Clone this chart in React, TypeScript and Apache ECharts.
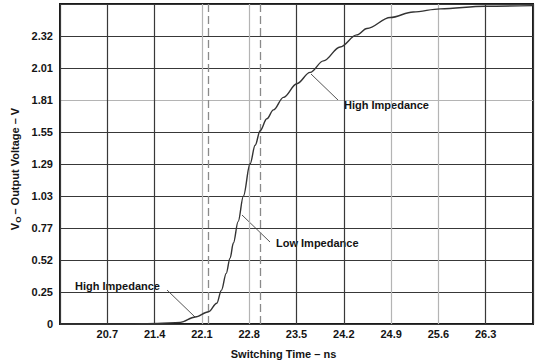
import React, { useEffect, useRef } from "react";
import * as echarts from "echarts";

// Curve: switching time in ns, output voltage in V
const timeNs = [20.0, 20.5, 21.0, 21.44, 21.78, 22.0, 22.2, 22.32, 22.39, 22.46, 22.517, 22.566, 22.636, 22.714, 22.813, 22.888, 22.962, 23.061, 23.159, 23.307, 23.505, 23.702, 23.899, 24.146, 24.393, 24.542, 24.887, 25.227, 25.627, 26.293, 27.0];
const voltage = [0, 0, 0.001, 0.005, 0.013, 0.056, 0.099, 0.167, 0.273, 0.408, 0.531, 0.652, 0.825, 1.03, 1.291, 1.44, 1.557, 1.653, 1.725, 1.826, 1.936, 2.027, 2.12, 2.232, 2.329, 2.381, 2.469, 2.514, 2.539, 2.56, 2.565];

// Dashed reference times (ns)
const dashedTimes = [22.2, 22.96];

// Axis settings
const xStartNs = 20.0;
const xStep = 0.7;
const xSpan = 7.0;
const yStep = 0.2578;
const yDivisions = 10;
const yTickLabels = ["0", "0.25", "0.52", "0.77", "1.03", "1.29", "1.55", "1.81", "2.01", "2.32", ""];

const DARK = "#383838";
const LIGHT = "#b4b4b4";
const TEXT = "#141414";
const FONT = "'Liberation Sans', Arial, Helvetica, sans-serif";

export default function App() {
  const ref = useRef<HTMLDivElement>(null);

  useEffect(() => {
    if (!ref.current) return;
    const chart = echarts.init(ref.current, undefined, { renderer: "svg" });
    const data = timeNs.map((t, i) => [t - xStartNs, voltage[i]]);
    const labelStyle = { fontFamily: FONT, fontWeight: "bold" as const, fontSize: 11, fill: TEXT };

    chart.setOption({
      animation: false,
      backgroundColor: "#ffffff",
      grid: {
        left: 60,
        right: 3,
        top: 4,
        bottom: 38,
        show: true,
        borderColor: "#1a1a1a",
        borderWidth: 2,
        backgroundColor: "transparent",
      },
      xAxis: {
        type: "value",
        min: 0,
        max: xSpan,
        interval: xStep,
        axisLine: { show: false },
        axisTick: { show: false },
        axisLabel: {
          showMinLabel: false,
          showMaxLabel: false,
          margin: 4,
          color: TEXT,
          fontFamily: FONT,
          fontWeight: "bold",
          fontSize: 11,
          formatter: (v: number) => (xStartNs + v).toFixed(1),
        },
        splitLine: {
          show: true,
          lineStyle: {
            width: 1.2,
            color: [DARK, DARK, DARK, LIGHT, LIGHT, DARK, DARK, LIGHT, LIGHT, DARK, DARK],
          },
        },
      },
      yAxis: {
        type: "value",
        min: 0,
        max: yStep * yDivisions,
        interval: yStep,
        axisLine: { show: false },
        axisTick: { show: false },
        axisLabel: {
          margin: 7,
          color: TEXT,
          fontFamily: FONT,
          fontWeight: "bold",
          fontSize: 11,
          formatter: (v: number) => yTickLabels[Math.round(v / yStep)] ?? "",
        },
        splitLine: {
          show: true,
          lineStyle: {
            width: 1.2,
            color: [DARK, DARK, DARK, DARK, DARK, DARK, DARK, LIGHT, DARK, DARK, DARK],
          },
        },
      },
      series: [
        {
          type: "line",
          data,
          showSymbol: false,
          smooth: 0.35,
          smoothMonotone: "x",
          lineStyle: { color: "#333333", width: 1.4 },
          z: 5,
          markLine: {
            silent: true,
            symbol: ["none", "none"],
            label: { show: false },
            lineStyle: { color: "#8a8a8a", width: 1.3, type: [8, 4] },
            data: dashedTimes.map((t) => ({ xAxis: t - xStartNs })),
          },
        },
      ],
      graphic: [
        {
          type: "text",
          left: 344,
          top: 99,
          style: { ...labelStyle, text: "High Impedance" },
        },
        {
          type: "line",
          shape: { x1: 311, y1: 74, x2: 338, y2: 100 },
          style: { stroke: "#555", lineWidth: 1 },
        },
        {
          type: "text",
          left: 276,
          top: 237,
          style: { ...labelStyle, text: "Low Impedance" },
        },
        {
          type: "line",
          shape: { x1: 242, y1: 215, x2: 270, y2: 242 },
          style: { stroke: "#555", lineWidth: 1 },
        },
        {
          type: "text",
          left: 75,
          top: 280,
          style: { ...labelStyle, text: "High Impedance" },
        },
        {
          type: "line",
          shape: { x1: 167, y1: 290, x2: 195, y2: 317 },
          style: { stroke: "#555", lineWidth: 1 },
        },
        {
          type: "text",
          x: 283.5,
          y: 353.5,
          style: {
            ...labelStyle,
            text: "Switching Time – ns",
            align: "center",
            verticalAlign: "middle",
          },
        },
        {
          type: "text",
          x: 15,
          y: 169,
          rotation: Math.PI / 2,
          style: {
            text: "{a|V}{s|O}{a|– Output Voltage – V}",
            align: "center",
            verticalAlign: "middle",
            rich: {
              a: { fontFamily: FONT, fontWeight: "bold", fontSize: 11, fill: TEXT, color: TEXT, lineHeight: 14 },
              s: { fontFamily: FONT, fontWeight: "bold", fontSize: 8, fill: TEXT, color: TEXT, lineHeight: 14, padding: [6, 2, 0, 0], verticalAlign: "bottom" },
            },
          },
        },
      ],
    });
    return () => chart.dispose();
  }, []);

  return (
    <div
      ref={ref}
      style={{ position: "fixed", left: 0, top: 0, width: 536, height: 362, background: "#fff" }}
    />
  );
}
